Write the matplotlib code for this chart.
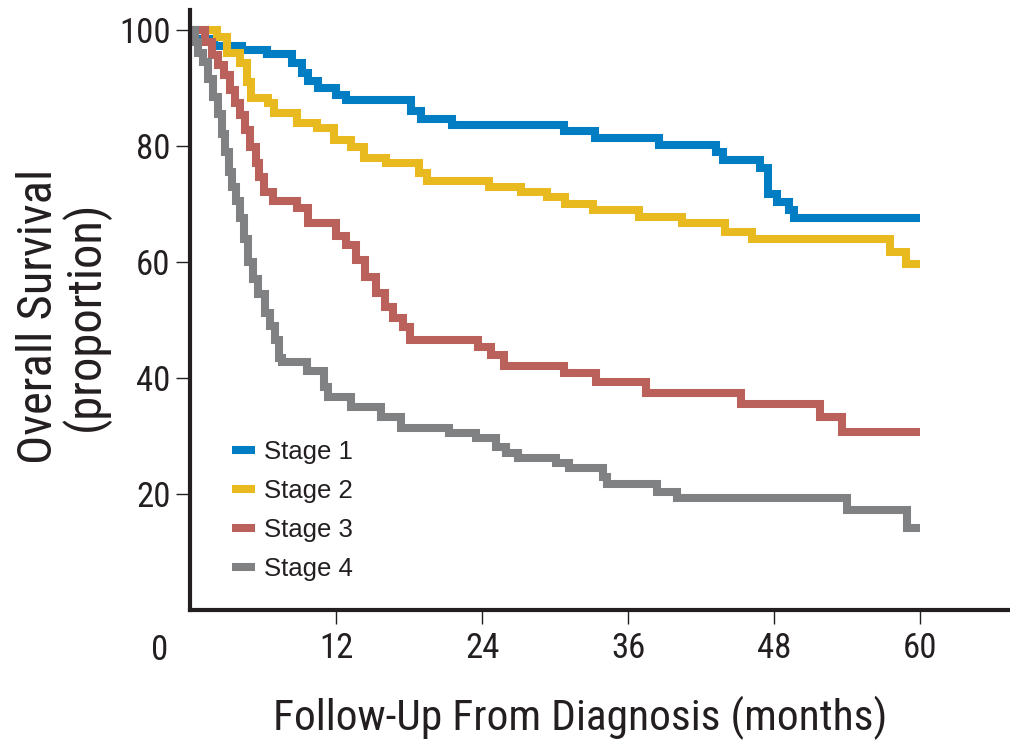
import matplotlib
matplotlib.use("Agg")
import matplotlib.pyplot as plt
import matplotlib.transforms as mtransforms
from matplotlib import font_manager as fm

# ---- data ----
stage1_t = [0, 0.3, 2.0, 4.3, 6.3, 8.4, 9.2, 9.7, 10.5, 12.0, 12.8, 18.2, 19.0, 21.5,
            30.7, 33.3, 38.5, 43.2, 43.8, 46.8, 47.5, 48.2, 49.2, 49.6, 60]
stage1_s = [100, 98.5, 97.2, 96.5, 95.8, 94.3, 92.5, 91.2, 90.0, 88.8, 88.0, 86.0, 84.6, 83.6,
            82.6, 81.4, 80.2, 79.0, 77.6, 76.2, 71.7, 70.4, 69.0, 67.6, 67.6]

stage2_t = [0, 2.2, 3.0, 4.1, 4.7, 5.0, 6.4, 6.9, 8.8, 10.4, 11.8, 13.2, 14.3, 16.1, 18.8,
            19.5, 24.6, 27.2, 29.3, 30.8, 33.1, 36.9, 40.4, 44.0, 46.2, 57.5, 58.8, 60]
stage2_s = [100, 98.8, 96.0, 94.3, 91.0, 88.3, 87.4, 85.7, 84.0, 83.1, 81.0, 79.8, 77.9, 77.1, 75.3,
            74.0, 72.9, 72.1, 71.2, 70.0, 69.0, 67.8, 66.7, 65.2, 64.0, 61.7, 59.7, 59.7]

stage3_t = [0, 1.2, 1.8, 2.3, 2.8, 3.3, 3.7, 4.1, 4.5, 4.9, 5.4, 5.7, 6.1, 6.8, 8.8, 9.7,
            12.0, 12.8, 13.6, 14.4, 15.3, 16.0, 16.7, 17.5, 18.1, 23.7, 24.7, 25.8, 30.7,
            33.4, 37.5, 45.3, 51.8, 53.6, 60]
stage3_s = [100, 98, 95.7, 94, 92.2, 89.7, 87.4, 85.3, 82.8, 79.8, 77, 74.7, 72.1, 70.5, 69.3, 66.8,
            64.5, 62.9, 60.3, 57.4, 54.7, 52.3, 50.3, 48.8, 46.6, 45.3, 44.0, 42.0, 40.8,
            39.3, 37.4, 35.5, 33.3, 30.7, 30.7]

stage4_t = [0, 0.4, 0.66, 1.07, 1.48, 1.90, 2.31, 2.64, 2.89, 3.22, 3.46, 3.79, 4.12, 4.45,
            4.78, 5.19, 5.61, 6.18, 6.60, 7.01, 7.34, 7.6, 9.65, 11.05, 11.38, 13.19, 15.66,
            17.31, 21.27, 23.50, 25.14, 25.97, 26.96, 30.09, 31.16, 33.97, 34.30, 38.34,
            39.98, 54.0, 58.95, 60]
stage4_s = [100, 98, 96, 94.5, 91.5, 88.5, 85.5, 82, 79, 75.5, 73, 70.5, 67.5, 64,
            60, 57, 54.5, 51.2, 49, 46.5, 43.5, 42.8, 41.2, 38.5, 36.8, 35.0, 33.2,
            31.3, 30.5, 29.6, 28.1, 27.0, 26.2, 25.3, 24.5, 23.0, 21.8, 20.3,
            19.3, 17.2, 14.1, 14.1]

labels = ["Stage 1", "Stage 2", "Stage 3", "Stage 4"]
colors = ["#007dc3", "#e8ba20", "#ba615b", "#808183"]
x_ticks = [12, 24, 36, 48, 60]
y_ticks = [20, 40, 60, 80, 100]


def has_family(name):
    try:
        fm.findfont(fm.FontProperties(family=name), fallback_to_default=False)
        return True
    except Exception:
        return False


# condensed face if one exists, otherwise Liberation Sans sized to the same widths
NARROW_FAM = None
for cand in ["Liberation Sans Narrow", "Arial Narrow", "Roboto Condensed"]:
    if has_family(cand):
        NARROW_FAM = cand
        break
if NARROW_FAM:
    NARROW = [NARROW_FAM, "DejaVu Sans"]
    k = 1.0
else:
    NARROW = ["Liberation Sans", "DejaVu Sans"]
    k = 0.82
REG = ["Liberation Sans", "DejaVu Sans"]
TXT = "#231f20"

W, H = 1010, 744
fig = plt.figure(figsize=(W / 100, H / 100), dpi=100)
ax = fig.add_axes([190 / W, 134 / H, 820 / W, 600 / H])
ax.set_xlim(0, 820 / 12.17)
ax.set_ylim(0, 600 / 5.8)

series = [(stage1_t, stage1_s), (stage2_t, stage2_s), (stage3_t, stage3_s), (stage4_t, stage4_s)]
for (t, s), c, lab in zip(series, colors, labels):
    ax.step(t, s, where="post", color=c, lw=5.8, label=lab,
            solid_joinstyle="miter", solid_capstyle="butt")

for sp in ["top", "right"]:
    ax.spines[sp].set_visible(False)
for sp in ["left", "bottom"]:
    ax.spines[sp].set_linewidth(3.0)
    ax.spines[sp].set_color(TXT)
    ax.spines[sp].set_capstyle("projecting")

tick_fs = 25 * k
ax.set_xticks(x_ticks)
ax.set_xticklabels([str(v) for v in x_ticks])
ax.set_yticks(y_ticks)
ax.set_yticklabels([str(v) for v in y_ticks])
ax.tick_params(axis="both", direction="out", length=10, width=1.0, color=TXT,
               labelcolor=TXT, labelsize=tick_fs)
ax.tick_params(axis="x", pad=6)
ax.tick_params(axis="y", pad=4)
for lab in ax.get_xticklabels() + ax.get_yticklabels():
    lab.set_family(NARROW)

# shared origin label
off = mtransforms.offset_copy(ax.transData, fig=fig, x=-30, y=-40, units="dots")
ax.text(0, 0, "0", transform=off, ha="center", va="center", fontsize=tick_fs,
        color=TXT, family=NARROW, clip_on=False)

fig.text(580 / W, 1 - 718 / H, "Follow-Up From Diagnosis (months)", ha="center", va="center",
         fontsize=31.3 * k, color=TXT, family=NARROW)
fig.text(63 / W, 1 - 316 / H, "Overall Survival\n(proportion)", ha="center", va="center",
         rotation=90, fontsize=35 * k, color=TXT, family=NARROW, linespacing=0.93,
         multialignment="center")

leg = ax.legend(loc="upper left", bbox_to_anchor=(232 / W, 1 - 440 / H),
                bbox_transform=fig.transFigure, frameon=False, borderpad=0,
                borderaxespad=0, handlelength=0.9, handletextpad=0.35,
                labelspacing=0.58, prop={"family": REG, "size": 18.5})
for txt in leg.get_texts():
    txt.set_color(TXT)
for h in leg.get_lines():
    h.set_linewidth(5.8)

fig.savefig("out.png", dpi=100)
